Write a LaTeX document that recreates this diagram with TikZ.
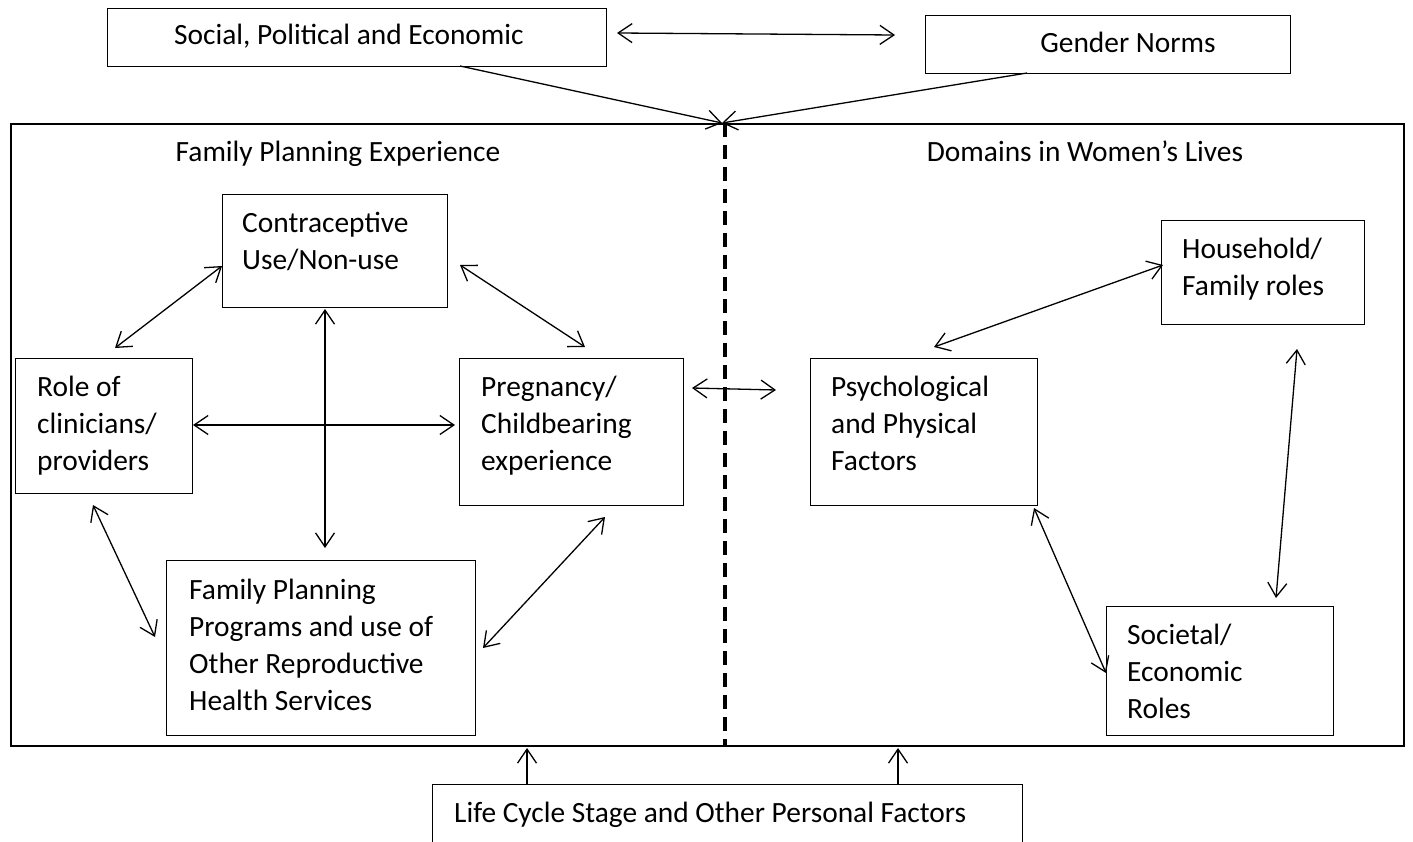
\documentclass[tikz,border=0pt]{standalone}
\usepackage{fontspec}
\setmainfont{Carlito}
\usetikzlibrary{arrows.meta}
\newcommand{\firstline}{\rule{0pt}{25pt}}
\begin{document}
\begin{tikzpicture}[x=1pt,y=-1pt,
  tip/.tip={Straight Barb[length=14pt,width=19pt]},
  plain/.style={draw, line width=1.4pt, anchor=north west, inner sep=0pt},
  lbl/.style={font=\fontsize{29.4}{37}\selectfont, inner sep=0pt, anchor=base},
  txt/.style={font=\fontsize{29.4}{37}\selectfont, inner sep=0pt, anchor=north west, align=flush left},
  link/.style={line width=1.3pt, tip-tip},
  one/.style={line width=1.3pt, -tip},
]
\clip (0,0) rectangle (1413,842);
\fill[white] (0,0) rectangle (1413,842);

% outer frame and divider
\node[plain, line width=2pt, minimum width=1393pt, minimum height=622pt] (frame) at (10,123) {};
\coordinate (dtop) at (725,123);
\coordinate (dbot) at (725,745);
\draw[line width=4pt, dash pattern=on 14pt off 8pt] (dtop) -- (dbot);

% top boxes
\node[plain, minimum width=499pt, minimum height=58pt] (spe) at (107,8) {};
\node[lbl] (spet) at (349,45) {Social, Political and Economic};
\node[plain, minimum width=365pt, minimum height=58pt] (gn) at (925,15) {};
\node[lbl] (gnt) at (1128,53) {Gender Norms};

% headings
\node[lbl] (fpe) at (338,162) {Family Planning Experience};
\node[lbl] (dwl) at (1085,162) {Domains in Women’s Lives};

% inner boxes
\node[plain, minimum width=225pt, minimum height=113pt] (contra) at (222,194) {};
\node[txt] (contrat) at ([shift={(20,13.5)}]contra.north west) {\firstline Contraceptive\\Use/Non-use};
\node[plain, minimum width=177pt, minimum height=135pt] (role) at (15,358) {};
\node[txt] (rolet) at ([shift={(22,13)}]role.north west) {\firstline Role of\\clinicians/\\providers};
\node[plain, minimum width=224pt, minimum height=147pt] (preg) at (459,358) {};
\node[txt] (pregt) at ([shift={(22,13)}]preg.north west) {\firstline Pregnancy/\\Childbearing\\experience};
\node[plain, minimum width=309pt, minimum height=175pt] (fp) at (166,560) {};
\node[txt] (fpt) at ([shift={(23,14)}]fp.north west) {\firstline Family Planning\\Programs and use of\\Other Reproductive\\Health Services};
\node[plain, minimum width=227pt, minimum height=147pt] (psy) at (810,358) {};
\node[txt] (psyt) at ([shift={(21,13)}]psy.north west) {\firstline Psychological\\and Physical\\Factors};
\node[plain, minimum width=203pt, minimum height=104pt] (house) at (1161,220) {};
\node[txt] (houset) at ([shift={(21,13)}]house.north west) {\firstline Household/\\Family roles};
\node[plain, minimum width=227pt, minimum height=129pt] (soc) at (1106,606) {};
\node[txt] (soct) at ([shift={(21,13)}]soc.north west) {\firstline Societal/\\Economic\\Roles};

% bottom box
\node[plain, minimum width=590pt, minimum height=90pt] (life) at (432,784) {};
\node[lbl, anchor=base west] (lifet) at (454,822.5) {Life Cycle Stage and Other Personal Factors};

% connector end points
\coordinate (c1) at (617,33);  \coordinate (c2) at (895,35);
\coordinate (m) at (722,123);  \coordinate (s1) at (460,66); \coordinate (g1) at (1027,73);
\coordinate (a1) at (222,266); \coordinate (a2) at (115,348);
\coordinate (b1) at (460,265); \coordinate (b2) at (585,347);
\coordinate (v1) at (325,309); \coordinate (v2) at (325,548);
\coordinate (h1) at (193,425); \coordinate (h2) at (455,425);
\coordinate (r1) at (93,505);  \coordinate (r2) at (155,637);
\coordinate (p1) at (605,517); \coordinate (p2) at (483,648);
\coordinate (q1) at (692,388); \coordinate (q2) at (776,390);
\coordinate (k1) at (934,347); \coordinate (k2) at (1163,265);
\coordinate (e1) at (1297,349);\coordinate (e2) at (1276,598);
\coordinate (f1) at (1034,508);\coordinate (f2) at (1106,673);
\coordinate (u1) at (527,784); \coordinate (u1e) at (527,748);
\coordinate (u2) at (898,784); \coordinate (u2e) at (898,748);

\draw[link] (c1) -- (c2);
\draw[one] (s1) -- (m);
\draw[one] (g1) -- (m);
\draw[link] (a1) -- (a2);
\draw[link] (b1) -- (b2);
\draw[link] (v1) -- (v2);
\draw[link] (h1) -- (h2);
\draw[link] (r1) -- (r2);
\draw[link] (p1) -- (p2);
\draw[link] (q1) -- (q2);
\draw[link] (k1) -- (k2);
\draw[link] (e1) -- (e2);
\draw[link] (f1) -- (f2);
\draw[one] (u1) -- (u1e);
\draw[one] (u2) -- (u2e);
\end{tikzpicture}
\end{document}
